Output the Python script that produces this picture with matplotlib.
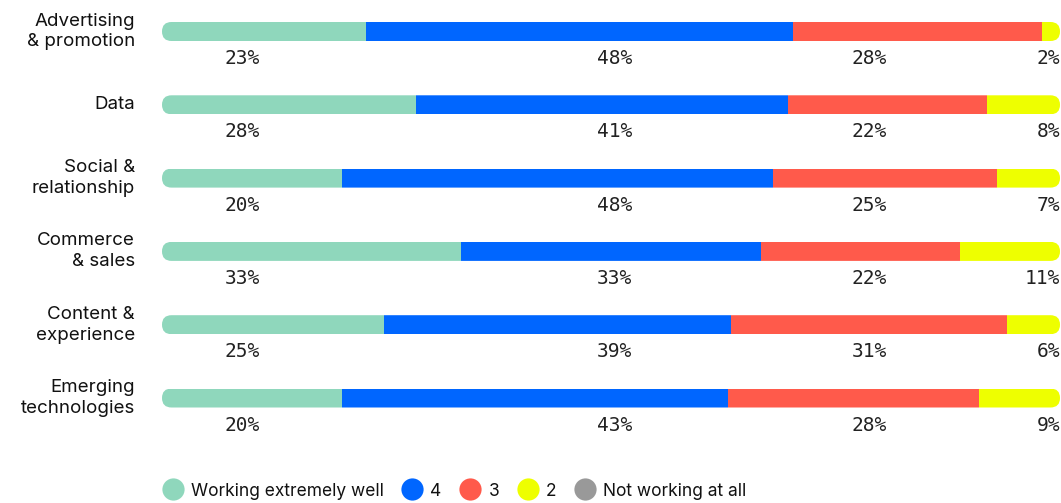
import matplotlib.pyplot as plt
from matplotlib.patches import FancyBboxPatch
from matplotlib.lines import Line2D

categories = ['Advertising\n& promotion', 'Data', 'Social &\nrelationship',
              'Commerce\n& sales', 'Content &\nexperience', 'Emerging\ntechnologies']
extremely_well = [23, 28, 20, 33, 25, 20]
rating_4 = [48, 41, 48, 33, 39, 43]
rating_3 = [28, 22, 25, 22, 31, 28]
rating_2 = [2, 8, 7, 11, 6, 9]
not_at_all = [0, 0, 0, 0, 0, 0]

series_names = ['Working extremely well', '4', '3', '2', 'Not working at all']
colors = ['#8fd7bc', '#0066ff', '#ff5a4b', '#eeff00', '#999999']

series = [extremely_well, rating_4, rating_3, rating_2, not_at_all]
totals = [sum(v) for v in zip(*series)]

W, H = 1061, 503
fig = plt.figure(figsize=(W / 100, H / 100), dpi=100)
bar_left, bar_right = 162, 1060
ax = fig.add_axes([bar_left / W, 0, (bar_right - bar_left) / W, 1])
row_px = 73.3
top_px = 31.5
ax.set_xlim(0, 100)
ax.set_ylim(H / row_px - top_px / row_px, -top_px / row_px)
ax.axis('off')

bar_h = 19 / row_px
# rounded outline for each row, used to clip the stacked segments
r_x = (19 / 2) * 100 / (bar_right - bar_left)
aspect = (bar_h / 2) / r_x
clips = []
for i in range(len(categories)):
    p = FancyBboxPatch((0, i - bar_h / 2), 100, bar_h,
                       boxstyle=f'round,pad=0,rounding_size={r_x}',
                       mutation_aspect=aspect, facecolor='none', edgecolor='none')
    ax.add_patch(p)
    clips.append(p)

rows = list(range(len(categories)))
left = [0.0] * len(categories)
for vals, color in zip(series, colors):
    widths = [v / t * 100 for v, t in zip(vals, totals)]
    bars = ax.barh(rows, widths, left=left, height=bar_h, color=color, linewidth=0)
    for b, c in zip(bars, clips):
        b.set_clip_path(c)
    left = [l + w for l, w in zip(left, widths)]

# share labels sit in fixed columns under the bars
label_cols = [(8.9, 'center'), (50.4, 'center'), (78.8, 'center'), (100, 'right')]
for i in rows:
    for (x, ha), vals in zip(label_cols, series[:4]):
        ax.text(x, i + 0.37, f'{vals[i]}%', ha=ha, va='center',
                family='DejaVu Sans Mono', fontsize=14, color='#222222')
    ax.text(-3.0, i, categories[i], ha='right', va='center', family='Inter',
            fontsize=13.5, linespacing=1.3, color='#111111')

handles = [Line2D([], [], marker='o', linestyle='', markersize=16,
                  markerfacecolor=c, markeredgecolor='none') for c in colors]
fig.legend(handles, series_names, loc='center left',
           bbox_to_anchor=(155.5 / W, 1 - 491 / H), ncol=5, frameon=False,
           prop={'family': 'Inter', 'size': 12.5}, handlelength=1.2,
           handletextpad=0.44, columnspacing=1.05, borderaxespad=0)
for t in fig.legends[0].get_texts():
    t.set_color('#111111')

fig.savefig('out.png', dpi=100)
